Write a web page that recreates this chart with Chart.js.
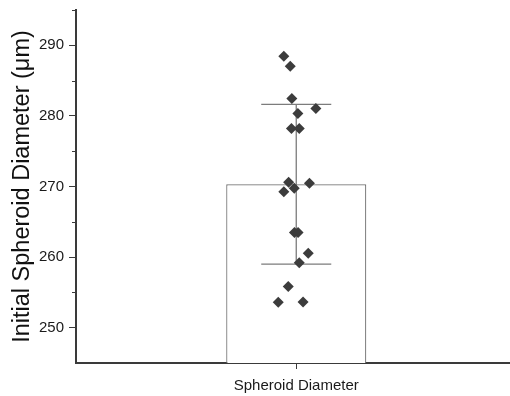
<!DOCTYPE html>
<html>
<head>
<meta charset="utf-8">
<script src="https://cdn.jsdelivr.net/npm/chart.js@4/dist/chart.umd.min.js"></script>
<style>
  html, body { margin: 0; padding: 0; background: #fff; overflow: hidden; }
  #wrap { width: 522px; height: 396px; }
</style>
</head>
<body>
<div id="wrap"><canvas id="c" width="522" height="396"></canvas></div>
<script>
// Group shown on the x axis
const categories = ['Spheroid Diameter'];

// Individual spheroid diameters (µm)
const diameters = [288.45, 287.03, 282.47, 281.05, 280.35, 278.2, 278.2, 270.6, 270.45,
                   269.27, 269.75, 263.5, 263.5, 260.55, 259.2, 255.85, 253.6, 253.65];

// Horizontal scatter of each point, as a fraction of the category width
const jitter = [-0.031, -0.015, -0.011, 0.049, 0.004, -0.012, 0.0075, -0.019, 0.033,
                -0.031, -0.005, -0.0045, 0.0045, 0.030, 0.0075, -0.020, -0.045, 0.017];

// Y axis range and tick spacing
const yMin = 245, yMax = 295, yStep = 5, yLabelEvery = 10;

// Mean and standard deviation of the group
const mean = diameters.reduce((a, b) => a + b, 0) / diameters.length;
const sd = Math.sqrt(diameters.reduce((a, v) => a + (v - mean) ** 2, 0) / (diameters.length - 1));
const barValues = [mean];
const errLow = [mean - sd];
const errHigh = [mean + sd];

const AXIS = '#3a3a3a';

// Draws the ±SD whiskers over the bar, and the short minor ticks on the y axis
const extras = {
  id: 'extras',
  afterDatasetDraw(chart, args) {
    if (args.meta.type !== 'bar') return;
    const ctx = chart.ctx, y = chart.scales.y;
    ctx.save();
    ctx.strokeStyle = '#7c7c7c';
    ctx.lineWidth = 1.3;
    args.meta.data.forEach((bar, i) => {
      const cap = bar.width / 4;
      const yl = y.getPixelForValue(errLow[i]);
      const yh = y.getPixelForValue(errHigh[i]);
      ctx.beginPath();
      ctx.moveTo(bar.x, yl); ctx.lineTo(bar.x, yh);
      ctx.moveTo(bar.x - cap, yl); ctx.lineTo(bar.x + cap, yl);
      ctx.moveTo(bar.x - cap, yh); ctx.lineTo(bar.x + cap, yh);
      ctx.stroke();
    });
    ctx.restore();
  },
  afterDraw(chart) {
    const ctx = chart.ctx, y = chart.scales.y;
    ctx.save();
    ctx.strokeStyle = AXIS;
    ctx.lineWidth = 1;
    y.ticks.forEach(t => {
      if (t.value % yLabelEvery === 0 || t.value === yMin) return;
      const py = Math.round(y.getPixelForValue(t.value)) + 0.5;
      ctx.beginPath();
      ctx.moveTo(y.right - 4, py); ctx.lineTo(y.right, py);
      ctx.stroke();
    });
    ctx.restore();
  }
};

new Chart(document.getElementById('c'), {
  type: 'bar',
  data: {
    labels: categories,
    datasets: [
      {
        type: 'scatter',
        order: 0,
        xAxisID: 'xj',
        data: diameters.map((v, i) => ({ x: jitter[i], y: v })),
        pointStyle: 'rectRot',
        pointRadius: 5.5,
        pointHoverRadius: 5.5,
        backgroundColor: '#3c3c3c',
        borderColor: '#3c3c3c',
        borderWidth: 0
      },
      {
        type: 'bar',
        order: 1,
        xAxisID: 'x',
        grouped: false,
        data: barValues,
        backgroundColor: '#ffffff',
        borderColor: '#707070',
        borderWidth: 1.2,
        borderSkipped: false,
        categoryPercentage: 1,
        barPercentage: 0.318
      }
    ]
  },
  options: {
    responsive: false,
    animation: false,
    events: [],
    layout: { padding: { top: 10, left: 0, right: 0, bottom: 0 } },
    plugins: { legend: { display: false }, tooltip: { enabled: false } },
    scales: {
      x: {
        type: 'category',
        offset: true,
        afterFit: s => { s.height = 33; s.paddingLeft = 0; s.paddingRight = 0; },
        border: { display: true, color: AXIS, width: 2 },
        grid: { display: true, drawOnChartArea: false, offset: false, tickLength: 6, tickColor: AXIS, tickWidth: 1 },
        ticks: { color: '#1a1a1a', padding: 8, font: { family: 'Liberation Sans', size: 15 } }
      },
      xj: {
        type: 'linear',
        display: false,
        min: -0.5,
        max: 0.5
      },
      y: {
        min: yMin,
        max: yMax,
        afterFit: s => { s.width = 76; s.paddingTop = 0; s.paddingBottom = 0; },
        border: { display: true, color: AXIS, width: 2 },
        grid: {
          display: true,
          drawOnChartArea: false,
          tickLength: 7,
          tickWidth: 1,
          tickColor: c => (c.tick && c.tick.value % yLabelEvery === 0) ? AXIS : 'rgba(0,0,0,0)'
        },
        ticks: {
          stepSize: yStep,
          color: '#1a1a1a',
          padding: 5,
          font: { family: 'Liberation Sans', size: 15 },
          callback: v => (v % yLabelEvery === 0 ? String(v) : '')
        },
        title: {
          display: true,
          text: 'Initial Spheroid Diameter (μm)',
          color: '#111',
          padding: { top: 8, bottom: 0 },
          font: { family: 'Liberation Sans', size: 23.5 }
        }
      }
    }
  },
  plugins: [extras]
});
</script>
</body>
</html>
